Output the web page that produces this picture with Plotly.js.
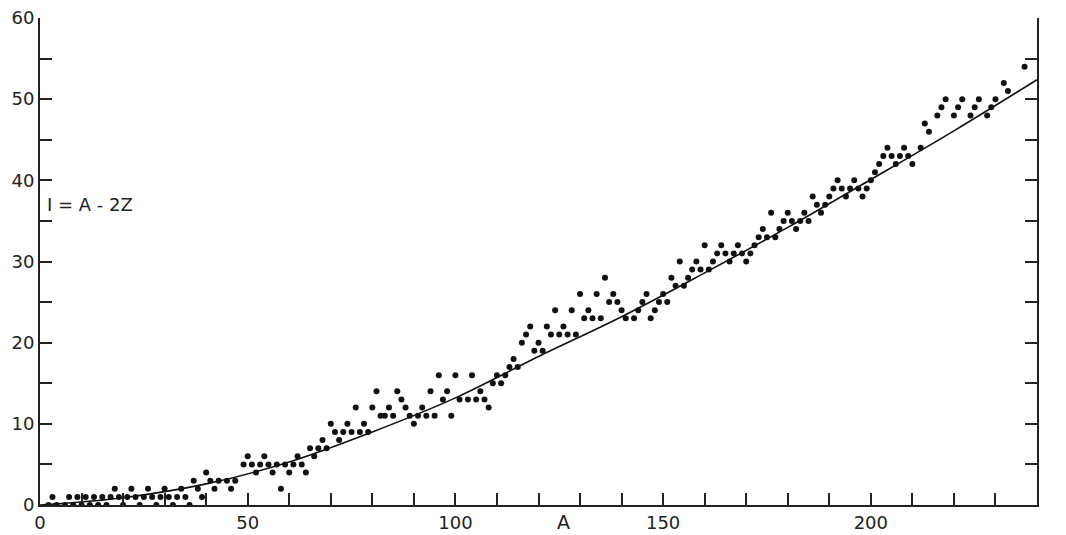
<!DOCTYPE html>
<html>
<head>
<meta charset="utf-8">
<script src="https://cdn.plot.ly/plotly-3.0.1.min.js"></script>
<style>body{margin:0;background:#fff}#chart{width:1066px;height:535px}</style>
</head>
<body>
<div id="chart"></div>
<script>
// mass number A and neutron excess I = A - 2Z
var massA = [2,4,6,8,10,12,14,16,20,24,28,32,36,
  3,7,9,11,13,15,17,19,21,23,25,27,29,31,33,35,39,
  18,22,26,30,34,38,42,46,58,
  37,41,43,45,47,
  40,52,56,60,64,
  49,51,53,55,57,59,61,63,
  50,54,62,66,
  65,67,69,68,72,71,73,75,77,79,70,74,76,78,
  80,81,82,83,84,85,86,87,88,89,90,91,92,93,94,95,96,97,98,99,
  100,101,103,104,105,106,107,108,109,110,111,112,113,114,115,116,117,118,119,
  120,121,122,123,124,125,126,127,128,129,130,131,132,133,134,135,136,137,138,139,
  140,141,143,144,145,146,147,148,149,150,151,152,153,154,155,156,157,158,159,
  160,161,162,163,164,165,166,167,168,169,170,171,172,173,174,175,176,177,178,179,
  180,181,182,183,184,185,186,187,188,189,190,191,192,193,194,195,196,197,198,199,
  200,201,202,203,204,205,206,207,208,209,210,212,213,214,216,217,218,220,221,222,
  224,225,226,228,229,230,232,233,237];
var excessI = [0,0,0,0,0,0,0,0,0,0,0,0,0,
  1,1,1,1,1,1,1,1,1,1,1,1,1,1,1,1,1,
  2,2,2,2,2,2,2,2,2,
  3,3,3,3,3,
  4,4,4,4,4,
  5,5,5,5,5,5,5,5,
  6,6,6,6,
  7,7,7,8,8,9,9,9,9,9,10,10,12,10,
  12,14,11,11,12,11,14,13,12,11,10,11,12,11,14,11,16,13,14,11,
  16,13,13,16,13,14,13,12,15,16,15,16,17,18,17,20,21,22,19,
  20,19,22,21,24,21,22,21,24,21,26,23,24,23,26,23,28,25,26,25,
  24,23,23,24,25,26,23,24,25,26,25,28,27,30,27,28,29,30,29,
  32,29,30,31,32,31,30,31,32,31,30,31,32,33,34,33,36,33,34,35,
  36,35,34,35,36,35,38,37,36,37,38,39,40,39,38,39,40,39,38,39,
  40,41,42,43,44,43,42,43,44,43,42,44,47,46,48,49,50,48,49,50,
  48,49,50,48,49,50,52,51,54];

// smooth curve
var curveA = [0,20,40,60,80,100,120,140,160,180,200,220,240];
var curveI = [0,0.9,2.6,5.3,9,13.2,18.3,23.2,28.6,34.2,40.1,46.1,52.4];

var data = [
  {x: curveA, y: curveI, mode: 'lines', line: {color: '#111', width: 1.6, shape: 'spline'}, hoverinfo: 'skip'},
  {x: massA, y: excessI, mode: 'markers', marker: {color: '#111', size: 6}}
];

var axisFont = {family: 'DejaVu Sans', size: 18, color: '#222'};

var layout = {
  width: 1066, height: 535,
  margin: {l: 40, r: 29, t: 18, b: 30},
  paper_bgcolor: '#fff', plot_bgcolor: '#fff',
  showlegend: false,
  font: axisFont,
  xaxis: {
    range: [0, 240], tickvals: [0, 50, 100, 150, 200],
    ticks: 'inside', ticklen: 12, tickcolor: '#222', tickwidth: 1.5,
    minor: {dtick: 10, ticks: 'inside', ticklen: 12, tickcolor: '#222'},
    showline: true, linecolor: '#222', linewidth: 2, mirror: false,
    showgrid: false, zeroline: false, tickfont: axisFont
  },
  yaxis: {
    range: [0, 60], dtick: 10,
    ticks: 'inside', ticklen: 12, tickcolor: '#222', tickwidth: 1.5,
    minor: {dtick: 5, ticks: 'inside', ticklen: 12, tickcolor: '#222'},
    showline: true, linecolor: '#222', linewidth: 2, mirror: 'ticks',
    showgrid: false, zeroline: false, tickfont: axisFont
  },
  annotations: [
    {text: 'I = A - 2Z', x: 0.005, y: 37, xref: 'paper', yref: 'y', xanchor: 'left',
     showarrow: false, font: {family: 'DejaVu Sans', size: 18, color: '#222'}},
    {text: 'A', x: 126, y: -0.062, xref: 'x', yref: 'paper', yanchor: 'bottom',
     showarrow: false, font: {family: 'DejaVu Sans', size: 19, color: '#222'}}
  ]
};

Plotly.newPlot('chart', data, layout, {displayModeBar: false});
</script>
</body>
</html>
